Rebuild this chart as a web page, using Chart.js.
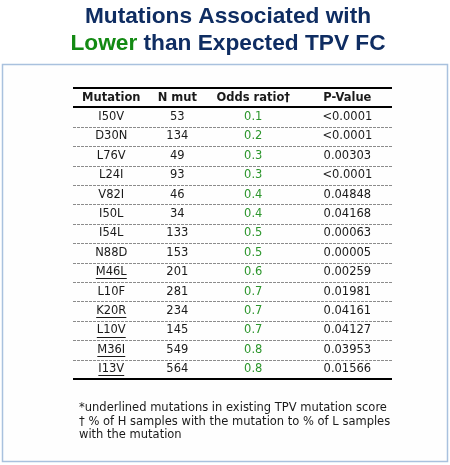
<!DOCTYPE html>
<html>
<head>
<meta charset="utf-8">
<script src="https://cdn.jsdelivr.net/npm/chart.js@4/dist/chart.umd.min.js"></script>
<style>
  html, body { margin: 0; padding: 0; background: #fff; }
  #wrap { width: 450px; height: 465px; }
</style>
</head>
<body>
<div id="wrap"><canvas id="chartTable" width="450" height="465"></canvas></div>
<script>
// Table data
var titleLine1 = 'Mutations Associated with';
var titleLower = 'Lower';
var titleRest = 'than Expected TPV FC';
var headers = ['Mutation', 'N mut', 'Odds ratio\u2020', 'P-Value'];
var mutations = ['I50V', 'D30N', 'L76V', 'L24I', 'V82I', 'I50L', 'I54L', 'N88D', 'M46L', 'L10F', 'K20R', 'L10V', 'M36I', 'I13V'];
var nMut = [53, 134, 49, 93, 46, 34, 133, 153, 201, 281, 234, 145, 549, 564];
var oddsRatio = [0.1, 0.2, 0.3, 0.3, 0.4, 0.4, 0.5, 0.5, 0.6, 0.7, 0.7, 0.7, 0.8, 0.8];
var pValues = ['<0.0001', '<0.0001', '0.00303', '<0.0001', '0.04848', '0.04168', '0.00063', '0.00005', '0.00259', '0.01981', '0.04161', '0.04127', '0.03953', '0.01566'];
// mutations underlined in the table (already in TPV mutation score)
var inTpvScore = ['M46L', 'K20R', 'L10V', 'M36I', 'I13V'];
var footnotes = [
  '*underlined mutations in existing TPV mutation score',
  '\u2020 % of H samples with the mutation to % of L samples',
  'with the mutation'
];

// Layout / style
var colX = [0.12, 0.327, 0.565, 0.86];
var navy = '#0f2d62';
var green = '#138a13';
var oddsGreen = '#2b952b';
var textColor = '#1a1a1a';
var cellFont = '11.5px "DejaVu Sans", Verdana, sans-serif';
var headFont = 'bold 11.5px "DejaVu Sans", Verdana, sans-serif';
var titleFont = 'bold 22.7px "Liberation Sans", Arial, sans-serif';

var columnTexts = [
  mutations,
  nMut.map(function (v) { return String(v); }),
  oddsRatio.map(function (v) { return v.toFixed(1); }),
  pValues
];
var columnColors = [textColor, textColor, oddsGreen, textColor];

function columnData(c) {
  return mutations.map(function (m, i) {
    return { x: colX[c], y: i };
  });
}

// Draws the page frame and the two-colour title
var framePlugin = {
  id: 'frame',
  beforeDraw: function (chart) {
    var ctx = chart.ctx;
    ctx.save();
    ctx.fillStyle = '#fff';
    ctx.fillRect(0, 0, chart.width, chart.height);
    ctx.fillStyle = '#fefefe';
    ctx.fillRect(2.5, 64.5, 445, 397);
    ctx.strokeStyle = '#a9c1de';
    ctx.lineWidth = 1.5;
    ctx.strokeRect(2.5, 64.5, 445, 397);

    ctx.font = titleFont;
    ctx.textBaseline = 'alphabetic';
    ctx.textAlign = 'left';
    var cx = 228;
    ctx.fillStyle = navy;
    var w1 = ctx.measureText(titleLine1).width;
    ctx.fillText(titleLine1, cx - w1 / 2, 23);
    var wl = ctx.measureText(titleLower + ' ').width;
    var wr = ctx.measureText(titleRest).width;
    var x0 = cx - (wl + wr) / 2;
    ctx.fillStyle = green;
    ctx.fillText(titleLower, x0, 50);
    ctx.fillStyle = navy;
    ctx.fillText(titleRest, x0 + wl, 50);
    ctx.restore();
  }
};

// Draws rules, header, cell texts and footnote using the chart scales
var tablePlugin = {
  id: 'tableText',
  afterDatasetsDraw: function (chart) {
    var ctx = chart.ctx;
    var xs = chart.scales.x;
    var ys = chart.scales.y;
    var left = xs.getPixelForValue(0);
    var right = xs.getPixelForValue(1);
    ctx.save();

    // dashed row separators
    ctx.strokeStyle = '#8c8c8c';
    ctx.lineWidth = 1;
    ctx.setLineDash([3, 1]);
    for (var r = 0; r < mutations.length - 1; r++) {
      var yy = Math.round(ys.getPixelForValue(r + 0.5)) + 0.5;
      ctx.beginPath();
      ctx.moveTo(left, yy);
      ctx.lineTo(right, yy);
      ctx.stroke();
    }
    ctx.setLineDash([]);

    // thick rules
    ctx.strokeStyle = '#000';
    ctx.lineWidth = 2;
    [-1.5, -0.5, mutations.length - 0.5].forEach(function (v) {
      var yy = Math.round(ys.getPixelForValue(v));
      ctx.beginPath();
      ctx.moveTo(left, yy);
      ctx.lineTo(right, yy);
      ctx.stroke();
    });

    // header
    ctx.textAlign = 'center';
    ctx.textBaseline = 'middle';
    ctx.font = headFont;
    ctx.fillStyle = textColor;
    headers.forEach(function (h, c) {
      ctx.fillText(h, xs.getPixelForValue(colX[c]), ys.getPixelForValue(-1));
    });

    // cells
    ctx.font = cellFont;
    chart.data.datasets.forEach(function (ds, c) {
      var meta = chart.getDatasetMeta(c);
      ctx.fillStyle = columnColors[c];
      meta.data.forEach(function (pt, i) {
        var t = columnTexts[c][i];
        ctx.fillText(t, pt.x, pt.y);
        if (c === 0 && inTpvScore.indexOf(t) >= 0) {
          var w = ctx.measureText(t).width;
          ctx.strokeStyle = columnColors[c];
          ctx.lineWidth = 1;
          ctx.beginPath();
          ctx.moveTo(pt.x - w / 2, Math.round(pt.y + 6) + 0.5);
          ctx.lineTo(pt.x + w / 2, Math.round(pt.y + 6) + 0.5);
          ctx.stroke();
        }
      });
    });

    // footnote
    ctx.textAlign = 'left';
    ctx.fillStyle = textColor;
    ctx.font = cellFont;
    var base = ys.getPixelForValue(mutations.length - 0.5);
    footnotes.forEach(function (f, i) {
      ctx.fillText(f, left + 6, base + 29.5 + i * 13.5);
    });
    ctx.restore();
  }
};

new Chart(document.getElementById('chartTable'), {
  type: 'scatter',
  data: {
    datasets: headers.map(function (h, c) {
      return {
        label: h,
        data: columnData(c),
        pointRadius: 0,
        pointHoverRadius: 0,
        showLine: false
      };
    })
  },
  options: {
    responsive: false,
    animation: false,
    events: [],
    layout: { padding: { left: 73, right: 58, top: 88, bottom: 86 } },
    scales: {
      x: { type: 'linear', min: 0, max: 1, display: false },
      y: { type: 'linear', min: -1.5, max: mutations.length - 0.5, reverse: true, display: false }
    },
    plugins: {
      legend: { display: false },
      tooltip: { enabled: false },
      title: { display: false }
    }
  },
  plugins: [framePlugin, tablePlugin]
});
</script>
</body>
</html>
